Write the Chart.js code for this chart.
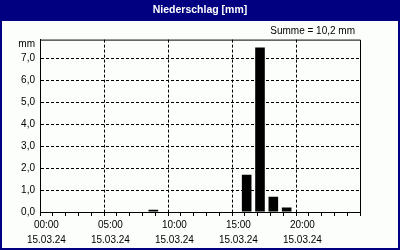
<!DOCTYPE html>
<html>
<head>
<meta charset="utf-8">
<script src="https://cdn.jsdelivr.net/npm/chart.js@4"></script>
<style>
  html, body { margin: 0; padding: 0; background: #fbfefb; }
  #wrap { width: 400px; height: 250px; }
</style>
</head>
<body>
<div id="wrap"><canvas id="rainChart" width="400" height="250"></canvas></div>
<script>
const ctx = document.getElementById("rainChart").getContext("2d");

// hourly precipitation in mm, 15.03.24 00:00 .. 23:00
const hours = ["00", "01", "02", "03", "04", "05", "06", "07", "08", "09", "10", "11",
               "12", "13", "14", "15", "16", "17", "18", "19", "20", "21", "22", "23"];
const rainValues = [0, 0, 0, 0, 0, 0, 0, 0, 0.1, 0, 0, 0,
                    0, 0, 0, 1.7, 7.5, 0.7, 0.2, 0, 0, 0, 0, 0];
const timeLabels = ["00:00", "05:00", "10:00", "15:00", "20:00"];
const dateLabel = "15.03.24";
const yTicks = [0, 1, 2, 3, 4, 5, 6, 7];

const NAVY = "#000080";
const FONT = "'Liberation Sans', Arial, sans-serif";
const total = rainValues.reduce((a, b) => a + b, 0);

const fmt = (v) => v.toFixed(1).replace(".", ",");

// background, blue header bar, frame and the extra texts
const framePlugin = {
  id: "frame",
  beforeDraw(chart) {
    const c = chart.ctx;
    c.save();
    c.fillStyle = "#fbfefb";
    c.fillRect(0, 0, chart.width, chart.height);
    c.fillStyle = NAVY;
    c.fillRect(0, 0, chart.width, 21);
    c.strokeStyle = NAVY;
    c.lineWidth = 2;
    c.strokeRect(1, 1, chart.width - 2, chart.height - 2);
    c.restore();
  },
  afterDraw(chart) {
    const a = chart.chartArea;
    const c = chart.ctx;
    c.save();
    c.strokeStyle = "#000";
    c.lineWidth = 1;
    c.beginPath();
    c.moveTo(a.left, a.top + 0.5);
    c.lineTo(a.right + 0.5, a.top + 0.5);
    c.lineTo(a.right + 0.5, a.bottom);
    c.stroke();
    c.fillStyle = "#000";
    c.font = "10px " + FONT;
    c.textBaseline = "middle";
    c.textAlign = "right";
    c.fillText("Summe = " + fmt(total) + " mm", a.right - 5, 31);
    c.fillText("mm", a.left - 5, a.top + 5);
    c.restore();
  },
};

new Chart(ctx, {
  type: "bar",
  data: {
    labels: hours,
    datasets: [
      {
        label: "Niederschlag",
        data: rainValues,
        xAxisID: "xb",
        backgroundColor: "#000000",
        borderWidth: 0,
        categoryPercentage: 1,
        barPercentage: 0.72,
      },
    ],
  },
  options: {
    responsive: false,
    animation: false,
    events: [],
    layout: { padding: { left: 2, right: 2, top: 0, bottom: 0 } },
    plugins: {
      legend: { display: false },
      tooltip: { enabled: false },
      title: {
        display: true,
        text: "Niederschlag [mm]",
        color: "#ffffff",
        font: { family: FONT, size: 10.5, weight: "bold", lineHeight: 1.2 },
        padding: { top: 4, bottom: 23 },
      },
    },
    scales: {
      xb: {
        type: "category",
        display: false,
        offset: true,
      },
      x: {
        type: "linear",
        position: "bottom",
        min: 0,
        max: 24,
        afterBuildTicks: (s) => {
          s.ticks = hours.map((h) => ({ value: Number(h) })).concat([{ value: 24 }]);
        },
        ticks: {
          autoSkip: false,
          maxRotation: 0,
          padding: 2,
          color: "#000",
          font: { family: FONT, size: 10, lineHeight: 1.5 },
          callback: (v) => {
            const lbl = timeLabels.find((t) => Number(t.slice(0, 2)) === v);
            return lbl ? [lbl, dateLabel] : "";
          },
        },
        grid: {
          color: (c) => (c.tick && c.tick.value % 5 === 0 && c.tick.value > 0 ? "#000" : "rgba(0,0,0,0)"),
          tickColor: "#000",
          tickLength: 4,
          lineWidth: 1,
        },
        border: { display: true, color: "#000", width: 1, dash: [3, 2] },
      },
      y: {
        type: "linear",
        min: 0,
        max: 7.86,
        afterBuildTicks: (s) => {
          s.ticks = yTicks.map((v) => ({ value: v }));
        },
        afterFit: (s) => {
          s.width = 38;
        },
        ticks: {
          padding: 5,
          color: "#000",
          font: { family: FONT, size: 10 },
          callback: (v) => fmt(v),
        },
        grid: {
          color: (c) => (c.tick && c.tick.value > 0 ? "#000" : "rgba(0,0,0,0)"),
          drawTicks: false,
          lineWidth: 1,
        },
        border: { display: true, color: "#000", width: 1, dash: [3, 2] },
      },
      yr: {
        type: "linear",
        position: "right",
        display: true,
        min: 0,
        max: 1,
        afterFit: (s) => {
          s.width = 38;
        },
        ticks: { display: false },
        grid: { display: false },
        border: { display: false },
      },
    },
  },
  plugins: [framePlugin],
});
</script>
</body>
</html>
